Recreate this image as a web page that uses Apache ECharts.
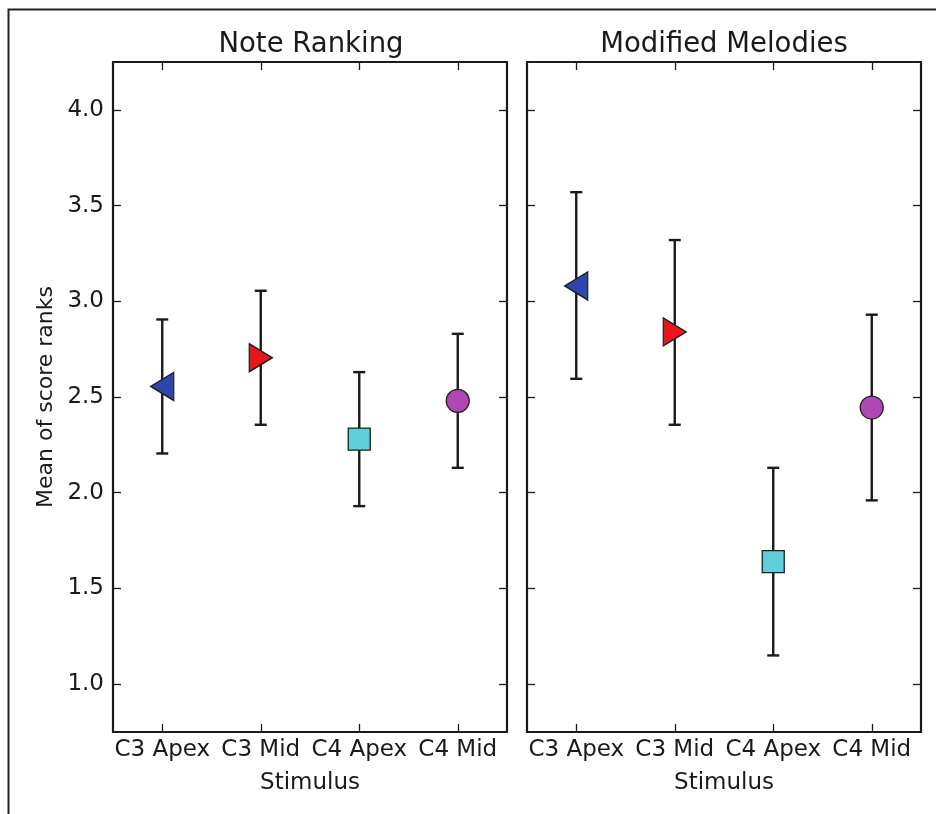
<!DOCTYPE html>
<html>
<head>
<meta charset="utf-8">
<script src="https://cdn.jsdelivr.net/npm/echarts@6/dist/echarts.min.js"></script>
<style>
  html, body { margin: 0; padding: 0; background: #fff; }
  #chart { width: 936px; height: 814px; }
</style>
</head>
<body>
<div id="chart"></div>
<script>
// Stimulus categories and tick values
const categories = ['C3 Apex', 'C3 Mid', 'C4 Apex', 'C4 Mid'];
const yTicks = [1.0, 1.5, 2.0, 2.5, 3.0, 3.5, 4.0];

// Note Ranking: mean and error-bar bounds
const noteMean = [2.555, 2.705, 2.28, 2.48];
const noteLow  = [2.205, 2.355, 1.93, 2.13];
const noteHigh = [2.905, 3.055, 2.63, 2.83];

// Modified Melodies: mean and error-bar bounds
const modMean = [3.08, 2.84, 1.64, 2.445];
const modLow  = [2.595, 2.355, 1.15, 1.96];
const modHigh = [3.57, 3.32, 2.13, 2.93];

// Marker style per stimulus
const markerSymbols = ['triangle', 'triangle', 'rect', 'circle'];
const markerRotate  = [90, -90, 0, 0];
const markerSizes   = [[28, 23], [28, 23], [22, 22], [23, 23]];
const markerColors  = ['#2d46ad', '#e8161a', '#5ccfdb', '#b046b2'];

const FONT = 'DejaVu Sans';
const INK = '#1a1a1a';

const chart = echarts.init(document.getElementById('chart'), null, { renderer: 'canvas' });

function xAxes(gridIndex, withName) {
  const base = {
    type: 'category', data: categories, gridIndex: gridIndex,
    boundaryGap: true,
    axisLine: { show: true, lineStyle: { color: INK, width: 2.2 } },
    axisTick: { show: true, inside: true, alignWithLabel: true, interval: 0, length: 8, lineStyle: { color: INK, width: 1.3 } },
    splitLine: { show: false }
  };
  return [
    Object.assign({}, base, {
      position: 'bottom',
      axisLabel: { show: true, interval: 0, color: INK, fontFamily: FONT, fontSize: 23, margin: 7, hideOverlap: false },
      name: withName ? 'Stimulus' : '', nameLocation: 'middle', nameGap: 40,
      nameTextStyle: { color: INK, fontFamily: FONT, fontSize: 23 }
    }),
    Object.assign({}, base, { position: 'top', axisLabel: { show: false } })
  ];
}

function yAxes(gridIndex, withLabels) {
  const base = {
    type: 'value', gridIndex: gridIndex, min: 0.75, max: 4.25,
    axisLine: { show: true, lineStyle: { color: INK, width: 2.2 } },
    axisTick: { show: true, inside: true, length: 8, customValues: yTicks, lineStyle: { color: INK, width: 1.3 } },
    splitLine: { show: false }
  };
  return [
    Object.assign({}, base, {
      position: 'left',
      axisLabel: {
        show: withLabels, customValues: yTicks, color: INK, fontFamily: FONT, fontSize: 23, margin: 9,
        formatter: v => v.toFixed(1)
      },
      name: withLabels ? 'Mean of score ranks' : '', nameLocation: 'middle', nameGap: 56,
      nameTextStyle: { color: INK, fontFamily: FONT, fontSize: 22 }
    }),
    Object.assign({}, base, { position: 'right', axisLabel: { show: false } })
  ];
}

function errorSeries(axisIdx, low, high) {
  return {
    type: 'custom', xAxisIndex: axisIdx, yAxisIndex: axisIdx, z: 2,
    data: categories.map((c, i) => [i, low[i], high[i]]),
    renderItem: function (params, api) {
      const lo = api.coord([api.value(0), api.value(1)]);
      const hi = api.coord([api.value(0), api.value(2)]);
      const cap = 6;
      const style = { stroke: INK, lineWidth: 2.4 };
      return {
        type: 'group',
        children: [
          { type: 'line', shape: { x1: lo[0], y1: lo[1], x2: hi[0], y2: hi[1] }, style: style },
          { type: 'line', shape: { x1: lo[0] - cap, y1: lo[1], x2: lo[0] + cap, y2: lo[1] }, style: style },
          { type: 'line', shape: { x1: hi[0] - cap, y1: hi[1], x2: hi[0] + cap, y2: hi[1] }, style: style }
        ]
      };
    }
  };
}

function markerSeries(axisIdx, means) {
  return {
    type: 'scatter', xAxisIndex: axisIdx, yAxisIndex: axisIdx, z: 3,
    data: categories.map((c, i) => ({
      value: [i, means[i]],
      symbol: markerSymbols[i],
      symbolRotate: markerRotate[i],
      symbolSize: markerSizes[i],
      itemStyle: { color: markerColors[i], borderColor: '#1e1e1e', borderWidth: 1.3, opacity: 1 }
    }))
  };
}

const gridCommon = { top: 62, height: 670, width: 394, containLabel: false };

chart.setOption({
  backgroundColor: '#ffffff',
  animation: false,
  graphic: [
    { type: 'rect', left: 6, top: 7, shape: { width: 1000, height: 1000 },
      style: { fill: 'none', stroke: '#222', lineWidth: 2 }, silent: true },
    { type: 'text', x: 311, y: 45, style: { text: 'Note Ranking', fill: INK, font: '27.5px "DejaVu Sans"', textAlign: 'center', textVerticalAlign: 'middle' } },
    { type: 'text', x: 724, y: 45, style: { text: 'Modified Melodies', fill: INK, font: '27.5px "DejaVu Sans"', textAlign: 'center', textVerticalAlign: 'middle' } }
  ],
  grid: [
    Object.assign({ left: 113 }, gridCommon),
    Object.assign({ left: 527 }, gridCommon)
  ],
  xAxis: [].concat(xAxes(0, true), xAxes(1, true)),
  yAxis: [].concat(yAxes(0, true), yAxes(1, false)),
  series: [
    errorSeries(0, noteLow, noteHigh),
    markerSeries(0, noteMean),
    errorSeries(2, modLow, modHigh),
    markerSeries(2, modMean)
  ]
});
</script>
</body>
</html>
